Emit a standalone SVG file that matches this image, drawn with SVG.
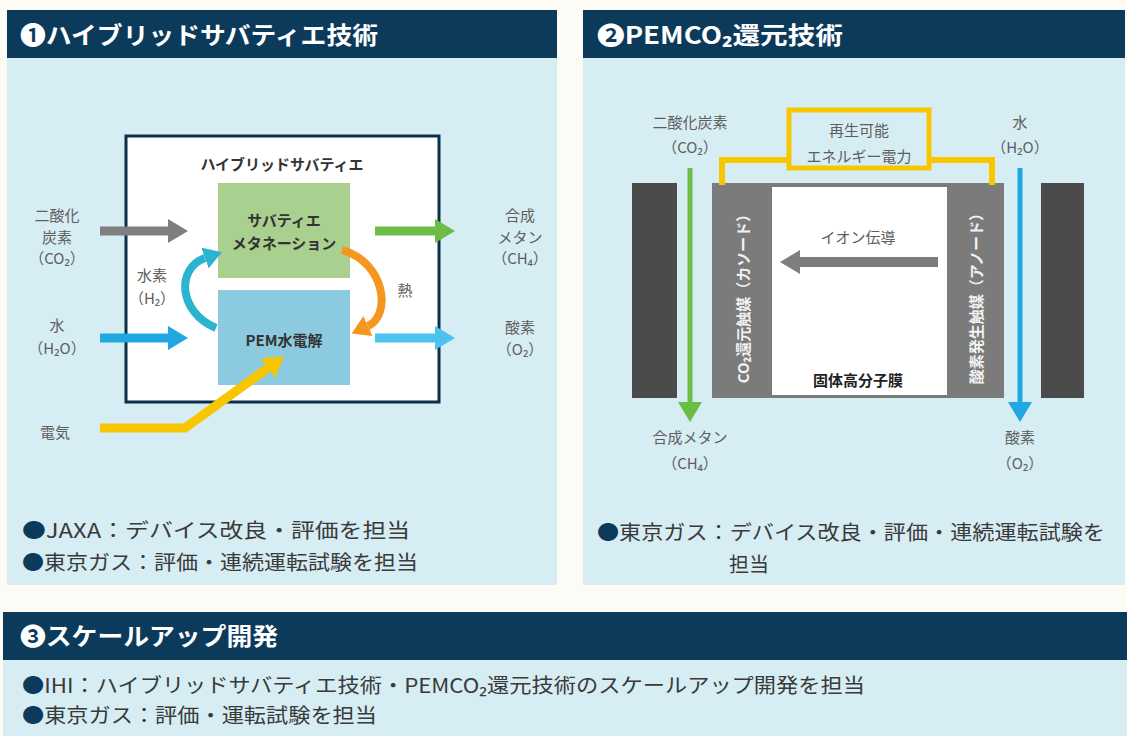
<svg xmlns="http://www.w3.org/2000/svg" width="1127" height="736" viewBox="0 0 1127 736">
<style>
text{font-family:"Noto Sans CJK JP","Noto Sans",sans-serif;}
.hd{fill:#0c3a5b;}
.bd{fill:#d6edf3;}
.ttl{fill:#ffffff;font-size:24px;font-weight:bold;}
.lbl{fill:#5e5e5e;font-size:15px;text-anchor:middle;}
.bx{fill:#333333;font-size:15px;font-weight:bold;text-anchor:middle;}
.bul{fill:#3a3a3a;font-size:20px;}
.dot{fill:#0c3a5b;}
.vt{fill:#f2f2f2;font-size:15px;font-weight:bold;text-anchor:middle;dominant-baseline:central;}
.ln{fill:none;stroke-width:9;}
</style>
<defs>
<marker id="mGray" markerUnits="userSpaceOnUse" markerWidth="22" markerHeight="24" refX="0" refY="12" orient="auto"><path d="M0,0 L20,12 L0,24 Z" fill="#7f7f7f"/></marker>
<marker id="mBlue" markerUnits="userSpaceOnUse" markerWidth="22" markerHeight="24" refX="0" refY="12" orient="auto"><path d="M0,0 L20,12 L0,24 Z" fill="#1fa8e2"/></marker>
<marker id="mGreen" markerUnits="userSpaceOnUse" markerWidth="22" markerHeight="24" refX="0" refY="12" orient="auto"><path d="M0,0 L20,12 L0,24 Z" fill="#6bbd45"/></marker>
<marker id="mSky" markerUnits="userSpaceOnUse" markerWidth="22" markerHeight="24" refX="0" refY="12" orient="auto"><path d="M0,0 L20,12 L0,24 Z" fill="#4cc3ee"/></marker>
<marker id="mYel" markerUnits="userSpaceOnUse" markerWidth="22" markerHeight="24" refX="0" refY="12" orient="auto"><path d="M0,0 L20,12 L0,24 Z" fill="#f7c600"/></marker>
<marker id="mCyan" markerUnits="userSpaceOnUse" markerWidth="20" markerHeight="22" refX="0" refY="11" orient="auto"><path d="M0,0 L18,11 L0,22 Z" fill="#2bb3cf"/></marker>
<marker id="mOrg" markerUnits="userSpaceOnUse" markerWidth="20" markerHeight="22" refX="0" refY="11" orient="auto"><path d="M0,0 L18,11 L0,22 Z" fill="#f5961e"/></marker>
</defs>
<rect width="1127" height="736" fill="#fcfbf6"/>

<!-- Panel 1 -->
<g id="panel1">
<rect class="hd" x="7" y="10" width="550" height="48"/>
<rect class="bd" x="7" y="58" width="550" height="527"/>
<text class="ttl" x="20" y="44" textLength="358" lengthAdjust="spacingAndGlyphs">❶ハイブリッドサバティエ技術</text>
</g>
<g id="hybrid-box">
<rect x="126" y="136" width="313" height="266" fill="#ffffff" stroke="#0c2f4a" stroke-width="3"/>
<text class="bx" x="282" y="170">ハイブリッドサバティエ</text>
</g>
<g id="sabatier">
<rect x="218" y="183" width="132" height="95" fill="#a9d08e"/>
<text class="bx" x="284" y="226">サバティエ</text>
<text class="bx" x="284" y="249">メタネーション</text>
</g>
<g id="pem">
<rect x="218" y="290" width="132" height="95" fill="#8ccbdf"/>
<text class="bx" x="284" y="346">PEM水電解</text>
</g>
<g id="labels1">
<text class="lbl" x="57" y="221">二酸化</text>
<text class="lbl" x="57" y="243">炭素</text>
<text class="lbl" x="57" y="264">（CO₂）</text>
<text class="lbl" x="57" y="331">水</text>
<text class="lbl" x="57" y="354">（H₂O）</text>
<text class="lbl" x="152" y="281">水素</text>
<text class="lbl" x="152" y="304">（H₂）</text>
<text class="lbl" x="405" y="296">熱</text>
<text class="lbl" x="520" y="221">合成</text>
<text class="lbl" x="520" y="243">メタン</text>
<text class="lbl" x="520" y="264">（CH₄）</text>
<text class="lbl" x="520" y="333">酸素</text>
<text class="lbl" x="520" y="355">（O₂）</text>
<text class="lbl" x="55" y="438">電気</text>
</g>
<g id="notes1">
<text class="bul" x="22" y="538" textLength="388" lengthAdjust="spacingAndGlyphs"><tspan class="dot">●</tspan>JAXA：デバイス改良・評価を担当</text>
<text class="bul" x="22" y="570" textLength="396" lengthAdjust="spacingAndGlyphs"><tspan class="dot">●</tspan>東京ガス：評価・連続運転試験を担当</text>
</g>

<!-- Panel 2 -->
<g id="panel2">
<rect class="hd" x="583" y="10" width="542" height="48"/>
<rect class="bd" x="583" y="58" width="542" height="527"/>
<text class="ttl" x="597" y="44" textLength="246" lengthAdjust="spacingAndGlyphs">❷PEMCO₂還元技術</text>
</g>
<g id="plate-left"><rect x="632" y="183" width="45" height="215" fill="#4b4b4b"/></g>
<g id="plate-right"><rect x="1041" y="183" width="43" height="215" fill="#4b4b4b"/></g>
<g id="cell">
<rect x="712" y="183" width="292" height="215" fill="#7b7b7b"/>
<rect x="772" y="187" width="175" height="208" fill="#ffffff"/>
<text class="vt" transform="translate(742,295) rotate(-90)">CO₂還元触媒（カソード）</text>
<text class="vt" transform="translate(975,295) rotate(-90)">酸素発生触媒（アノード）</text>
<text class="lbl" x="858" y="243">イオン伝導</text>
<text class="bx" x="858" y="386" style="fill:#222">固体高分子膜</text>
</g>
<g id="power">
<rect x="789" y="110" width="140" height="58" fill="#d6edf3" stroke="#f7c600" stroke-width="5"/>
<text class="lbl" x="859" y="136">再生可能</text>
<text class="lbl" x="859" y="162">エネルギー電力</text>
</g>
<g id="labels2">
<text class="lbl" x="690" y="128">二酸化炭素</text>
<text class="lbl" x="690" y="153">（CO₂）</text>
<text class="lbl" x="1020" y="128">水</text>
<text class="lbl" x="1020" y="153">（H₂O）</text>
<text class="lbl" x="690" y="443">合成メタン</text>
<text class="lbl" x="690" y="469">（CH₄）</text>
<text class="lbl" x="1020" y="443">酸素</text>
<text class="lbl" x="1020" y="469">（O₂）</text>
</g>
<g id="notes2">
<text class="bul" x="597" y="540" textLength="508" lengthAdjust="spacingAndGlyphs"><tspan class="dot">●</tspan>東京ガス：デバイス改良・評価・連続運転試験を</text>
<text class="bul" x="729" y="572">担当</text>
</g>

<!-- Panel 3 -->
<g id="panel3">
<rect class="hd" x="3" y="612" width="1124" height="48"/>
<rect class="bd" x="3" y="660" width="1124" height="76"/>
<text class="ttl" x="20" y="645" textLength="258" lengthAdjust="spacingAndGlyphs">❸スケールアップ開発</text>
<text class="bul" x="22" y="693" textLength="843" lengthAdjust="spacingAndGlyphs"><tspan class="dot">●</tspan>IHI：ハイブリッドサバティエ技術・PEMCO₂還元技術のスケールアップ開発を担当</text>
<text class="bul" x="22" y="723" textLength="355" lengthAdjust="spacingAndGlyphs"><tspan class="dot">●</tspan>東京ガス：評価・運転試験を担当</text>
</g>

<g id="connectors">
<path class="ln" d="M100,231 H168" stroke="#7f7f7f" marker-end="url(#mGray)"/>
<path class="ln" d="M100,338 H168" stroke="#1fa8e2" marker-end="url(#mBlue)"/>
<path class="ln" d="M375,231 H435" stroke="#6bbd45" marker-end="url(#mGreen)"/>
<path class="ln" d="M375,338 H435" stroke="#4cc3ee" marker-end="url(#mSky)"/>
<path class="ln" d="M100,428 H185 L268,368" stroke="#f7c600" stroke-linejoin="miter" marker-end="url(#mYel)"/>
<path fill="none" stroke="#2bb3cf" stroke-width="8" d="M216,328 C178,312 176,268 205,258" marker-end="url(#mCyan)"/>
<path fill="none" stroke="#f5961e" stroke-width="8" d="M342,250 C385,262 392,315 368,326" marker-end="url(#mOrg)"/>
<path fill="none" stroke="#f7c600" stroke-width="6" d="M722,185 V160 H789 M929,160 H992 V185"/>
<path fill="none" stroke="#6bbd45" stroke-width="5" d="M690,168 V402" marker-end="url(#mGreen)"/>
<path fill="none" stroke="#1fa8e2" stroke-width="5" d="M1020,168 V402" marker-end="url(#mBlue)"/>
<path fill="none" stroke="#7b7b7b" stroke-width="10" d="M938,262 H800" marker-end="url(#mGray)"/>
</g>
</svg>
